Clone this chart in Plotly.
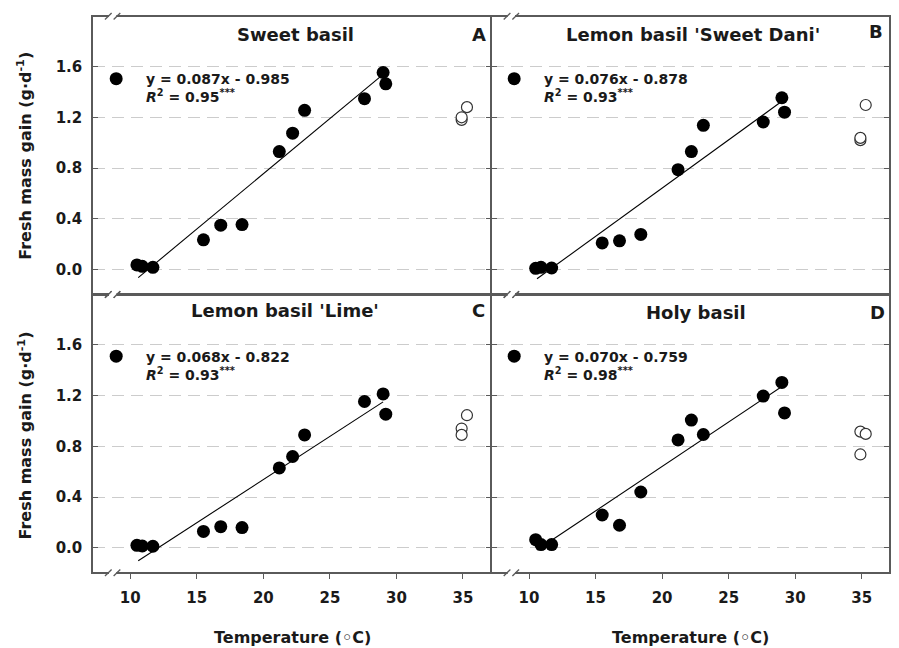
import plotly.graph_objects as go
from plotly.subplots import make_subplots

# ---------------- data ----------------
panel_titles = ["Sweet basil", "Lemon basil 'Sweet Dani'", "Lemon basil 'Lime'", "Holy basil"]
panel_letters = ["A", "B", "C", "D"]

temp_fit = [10.5, 10.9, 11.7, 15.5, 16.8, 18.4, 21.2, 22.2, 23.1, 27.6, 29.0, 29.2]
temp_hot = [34.9, 34.9, 35.3]

sweet_basil = [0.037, 0.026, 0.018, 0.235, 0.35, 0.355, 0.93, 1.075, 1.255, 1.347, 1.553, 1.464]
sweet_basil_hot = [1.18, 1.20, 1.28]

sweet_dani = [0.010, 0.018, 0.013, 0.21, 0.227, 0.277, 0.787, 0.93, 1.137, 1.163, 1.354, 1.24]
sweet_dani_hot = [1.02, 1.038, 1.297]

lime = [0.020, 0.015, 0.013, 0.13, 0.167, 0.16, 0.63, 0.72, 0.89, 1.153, 1.213, 1.053]
lime_hot = [0.94, 0.89, 1.045]

holy_basil = [0.065, 0.026, 0.026, 0.259, 0.178, 0.44, 0.85, 1.007, 0.893, 1.196, 1.303, 1.063]
holy_basil_hot = [0.916, 0.736, 0.898]

slopes = [0.087, 0.076, 0.068, 0.070]
intercepts = [-0.985, -0.878, -0.822, -0.759]
r2_values = ["0.95", "0.93", "0.93", "0.98"]
fit_range = [10.6, 29.0]

x_ticks = [10, 15, 20, 25, 30, 35]
y_ticks = [0.0, 0.4, 0.8, 1.2, 1.6]

fit_series = [sweet_basil, sweet_dani, lime, holy_basil]
hot_series = [sweet_basil_hot, sweet_dani_hot, lime_hot, holy_basil_hot]

# ---------------- figure ----------------
FONT = "DejaVu Sans"
TXT = "#1a1a1a"
AX = "#5a5a5a"
LW = 1.5

# page body has an 8px margin, so the figure is sized/offset to compensate
W, H = 891, 640
ML, MR, MT, MB = 85, 10, 7, 76
PW, PH = W - ML - MR, H - MT - MB

fig = make_subplots(rows=2, cols=2, horizontal_spacing=0, vertical_spacing=0)
cells = [(1, 1), (1, 2), (2, 1), (2, 2)]
legend_names = ["legend", "legend2", "legend3", "legend4"]

half = LW / 2.0
xdom = {1: [0, (PW / 2 - half) / PW], 2: [(PW / 2 + half) / PW, 1]}
ydom = {1: [1 - (PH / 2 - half) / PH, 1], 2: [0, 1 - (PH / 2 + half) / PH]}

for i, (r, c) in enumerate(cells):
    eq = ("&nbsp;&nbsp;y = %.3fx - %.3f<br>&nbsp;&nbsp;<i>R</i><sup>2</sup> = %s<sup>***</sup>"
          % (slopes[i], abs(intercepts[i]), r2_values[i]))
    fig.add_trace(go.Scatter(
        x=temp_fit, y=fit_series[i], mode="markers", name=eq,
        marker=dict(symbol="circle", size=13, color="black"),
        legend=legend_names[i], showlegend=True), row=r, col=c)
    fig.add_trace(go.Scatter(
        x=temp_hot, y=hot_series[i], mode="markers",
        marker=dict(symbol="circle", size=11, color="white",
                    line=dict(color="#333333", width=1.2)),
        showlegend=False), row=r, col=c)
    fx = fit_range
    fy = [slopes[i] * v + intercepts[i] for v in fx]
    fig.add_trace(go.Scatter(x=fx, y=fy, mode="lines",
                             line=dict(color="black", width=1.1),
                             showlegend=False), row=r, col=c)

for i, (r, c) in enumerate(cells):
    fig.update_xaxes(row=r, col=c, domain=xdom[c], range=[7.2, 37.05], tickvals=x_ticks,
                     showline=True, linecolor=AX, linewidth=LW, mirror=True,
                     showgrid=False, zeroline=False,
                     ticks="outside" if r == 2 else "", ticklen=5, tickcolor=AX,
                     showticklabels=(r == 2),
                     tickfont=dict(family=FONT, size=15, color=TXT, weight="bold"),
                     ticklabelstandoff=6)
    fig.update_yaxes(row=r, col=c, domain=ydom[r], range=[-0.19, 1.99], tickvals=y_ticks,
                     tickformat=".1f",
                     showline=True, linecolor=AX, linewidth=LW, mirror="allticks",
                     ticks="inside", ticklen=5, tickcolor=AX,
                     showgrid=True, gridcolor="#cccccc", gridwidth=1,
                     griddash="12px,7px", zeroline=False,
                     showticklabels=(c == 1),
                     tickfont=dict(family=FONT, size=15, color=TXT, weight="bold"),
                     ticklabelstandoff=6)

# axis break marks
xaxis_ids = ["x", "x2", "x3", "x4"]
yaxis_ids = ["y", "y2", "y3", "y4"]
shapes = []
for i in range(4):
    xr, yr = xaxis_ids[i], yaxis_ids[i] + " domain"
    for yb in [0.0, 1.0]:
        off = -0.0027 if yb == 0.0 else 0.0027
        shapes.append(dict(type="rect", xref=xr, yref=yr, x0=8.4, x1=8.95,
                           y0=yb + off - 0.009, y1=yb + off + 0.009, fillcolor="white",
                           line=dict(width=0), layer="above"))
        for xs in [8.1, 8.75]:
            shapes.append(dict(type="line", xref=xr, yref=yr, x0=xs, x1=xs + 0.5,
                               y0=yb + off - 0.012, y1=yb + off + 0.012,
                               line=dict(color=AX, width=1.3), layer="above"))

annotations = []
title_pos = [(0.255, 0.9677), (0.754, 0.9677), (0.241, 0.4704), (0.7575, 0.4668)]
letter_pos = [(0.496, 0.9677), (0.995, 0.973), (0.495, 0.472), (0.9975, 0.467)]
for i in range(4):
    annotations.append(dict(text=panel_titles[i], xref="paper", yref="paper",
                            x=title_pos[i][0], y=title_pos[i][1], showarrow=False,
                            xanchor="center", yanchor="middle",
                            font=dict(family=FONT, size=18, color=TXT, weight="bold")))
    annotations.append(dict(text=panel_letters[i], xref="paper", yref="paper",
                            x=letter_pos[i][0], y=letter_pos[i][1], showarrow=False,
                            xanchor="right", yanchor="middle",
                            font=dict(family=FONT, size=18, color=TXT, weight="bold")))

for yc in [0.75, 0.246]:
    annotations.append(dict(text="Fresh mass gain (g·d<sup>-1</sup>)", xref="paper", yref="paper",
                            x=-0.0854, y=yc, showarrow=False, textangle=-90,
                            xanchor="center", yanchor="middle",
                            font=dict(family=FONT, size=16, color=TXT, weight="bold")))
for xc in [0.25, 0.751]:
    annotations.append(dict(text="Temperature (◦C)", xref="paper", yref="paper",
                            x=xc, y=-0.1185, showarrow=False,
                            xanchor="center", yanchor="middle",
                            font=dict(family=FONT, size=16, color=TXT, weight="bold")))

legend_pos = [(0.004, 0.917), (0.504, 0.917), (0.004, 0.417), (0.504, 0.417)]
legend_common = dict(bgcolor="rgba(0,0,0,0)", borderwidth=0, valign="top",
                     xanchor="left", yanchor="top", tracegroupgap=0,
                     font=dict(family=FONT, size=14, color=TXT, weight="bold"))
layout_legends = {}
for i, nm in enumerate(legend_names):
    layout_legends[nm] = dict(x=legend_pos[i][0], y=legend_pos[i][1], **legend_common)

fig.update_layout(
    width=W, height=H,
    margin=dict(l=ML, r=MR, t=MT, b=MB),
    paper_bgcolor="white", plot_bgcolor="white",
    font=dict(family=FONT, color=TXT),
    shapes=shapes, annotations=annotations,
    **layout_legends,
)

fig.write_html("out.html")
